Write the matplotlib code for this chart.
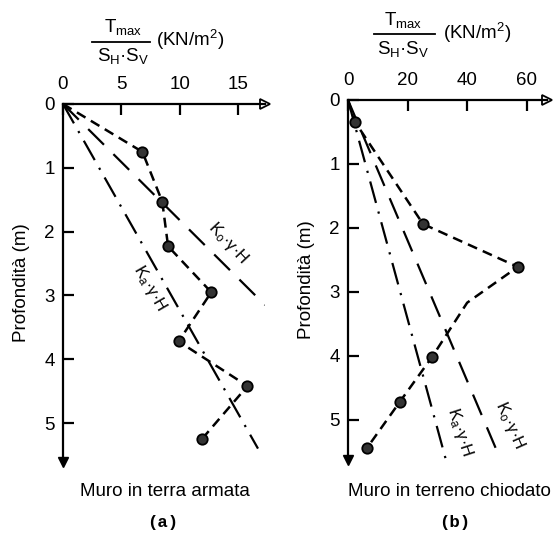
"""Tensione massima nei rinforzi vs profondità: muro in terra armata (a)
e muro in terreno chiodato (b)."""

import matplotlib
matplotlib.use("Agg")
import matplotlib.pyplot as plt
from matplotlib.lines import Line2D

plt.rcParams["font.family"] = ["Liberation Sans", "DejaVu Sans"]
plt.rcParams["mathtext.fontset"] = "custom"
plt.rcParams["mathtext.rm"] = "Liberation Sans"
plt.rcParams["mathtext.it"] = "Liberation Sans"

# (a) muro in terra armata
a_depth = [0.0, 0.75, 1.53, 2.23, 2.95, 3.72, 4.42, 5.25]
a_tmax = [0.0, 6.8, 8.5, 9.0, 12.7, 9.9, 15.8, 11.9]
a_ko_depth = [0.0, 3.15]
a_ko_val = [0.0, 17.3]
a_ka_depth = [0.0, 5.4]
a_ka_val = [0.0, 16.7]

# (b) muro in terreno chiodato
b_depth = [0.0, 0.34, 1.94, 2.61, 3.17, 4.02, 4.72, 5.44]
b_tmax = [0.0, 2.3, 25.2, 57.0, 40.0, 28.2, 17.4, 6.4]
b_marked = [False, True, True, True, False, True, True, True]
b_ko_depth = [0.0, 5.6]
b_ko_val = [0.0, 51.0]
b_ka_depth = [0.0, 5.65]
b_ka_val = [0.0, 33.0]

a_xticks = [0, 5, 10, 15]
b_xticks = [0, 20, 40, 60]
yticks = [0, 1, 2, 3, 4, 5]

W, H = 558, 546
fig = plt.figure(figsize=(W / 100, H / 100), dpi=100)


def px_axes(left, top, right, bottom):
    return fig.add_axes([left / W, 1 - bottom / H, (right - left) / W, (bottom - top) / H])


def style_axes(ax, xmax, ymax, xticks):
    ax.set_xlim(0, xmax)
    ax.set_ylim(ymax, 0)
    for s in ("bottom", "right"):
        ax.spines[s].set_visible(False)
    for s in ("top", "left"):
        ax.spines[s].set_linewidth(1.6)
    ax.xaxis.tick_top()
    ax.set_xticks(xticks)
    ax.set_yticks(yticks)
    ax.tick_params(axis="both", direction="in", length=8, width=1.6, labelsize=13.5, pad=6)
    ax.tick_params(axis="x", pad=8)
    ax.patch.set_alpha(0)
    ax.plot(1, 1, ">", ms=7, mfc="white", mec="black", mew=1.3,
            transform=ax.transAxes, clip_on=False)
    ax.plot(0, 0, "v", ms=7, color="black", transform=ax.transAxes, clip_on=False)


data_dash = (0, (4, 2.5))
ko_dash = (0, (10, 6))
ka_dash = (0, (10, 4, 1, 4))
mk = dict(marker="o", ms=7.5, mfc="#333333", mec="black", mew=1.3)

# ---- panel (a)
ax1 = px_axes(63, 104, 265, 462)
style_axes(ax1, 17.3, 5.61, a_xticks)
ax1.plot(a_ko_val, a_ko_depth, color="black", lw=1.6, linestyle=ko_dash)
ax1.plot(a_ka_val, a_ka_depth, color="black", lw=1.6, linestyle=ka_dash)
ax1.plot(a_tmax, a_depth, color="black", lw=1.8, linestyle=data_dash)
ax1.plot(a_tmax[1:], a_depth[1:], linestyle="none", **mk)
ax1.text(14.1, 2.18, r"K$_o$·γ·H", rotation=-47, ha="center", va="center", fontsize=12)
ax1.text(7.45, 2.88, r"K$_a$·γ·H", rotation=-60, ha="center", va="center", fontsize=12)
ax1.set_ylabel("Profondità (m)", fontsize=13.5, labelpad=10)

# ---- panel (b)
ax2 = px_axes(348, 100, 547, 460)
style_axes(ax2, 66.8, 5.63, b_xticks)
ax2.plot(b_ko_val, b_ko_depth, color="black", lw=1.6, linestyle=ko_dash)
ax2.plot(b_ka_val, b_ka_depth, color="black", lw=1.6, linestyle=ka_dash)
ax2.plot(b_tmax, b_depth, color="black", lw=1.8, linestyle=data_dash)
ax2.plot([v for v, m in zip(b_tmax, b_marked) if m],
         [d for d, m in zip(b_depth, b_marked) if m], linestyle="none", **mk)
ax2.text(37.6, 5.19, r"K$_a$·γ·H", rotation=-72, ha="center", va="center", fontsize=12)
ax2.text(54.4, 5.08, r"K$_o$·γ·H", rotation=-66, ha="center", va="center", fontsize=12)
ax2.set_ylabel("Profondità (m)", fontsize=13.5, labelpad=10)


# ---- fraction headers
def header(cx, num_y, line_y, den_y, x0, x1, unit_x, unit_y):
    fig.text(cx / W, 1 - num_y / H, r"T$_{max}$", ha="center", va="center", fontsize=13.5)
    fig.add_artist(Line2D([x0 / W, x1 / W], [1 - line_y / H] * 2, color="black", lw=1.3))
    fig.text(cx / W, 1 - den_y / H, r"S$_H$·S$_V$", ha="center", va="center", fontsize=13.5)
    fig.text(unit_x / W, 1 - unit_y / H, r"(KN/m$^2$)", ha="left", va="center", fontsize=13.5)


header(123, 27, 42, 56, 92, 150, 156, 40)
header(403, 20, 34, 49, 374, 435, 443, 33)

# ---- captions
fig.text(165 / W, 1 - 491 / H, "Muro in terra armata", ha="center", va="center", fontsize=13.5)
fig.text(163 / W, 1 - 522 / H, "(a)", ha="center", va="center", fontsize=12.5,
         family="Liberation Mono", weight="bold")
fig.text(348 / W, 1 - 491 / H, "Muro in terreno chiodato", ha="left", va="center", fontsize=13.5)
fig.text(455 / W, 1 - 522 / H, "(b)", ha="center", va="center", fontsize=12.5,
         family="Liberation Mono", weight="bold")

fig.savefig("out.png", dpi=100)
